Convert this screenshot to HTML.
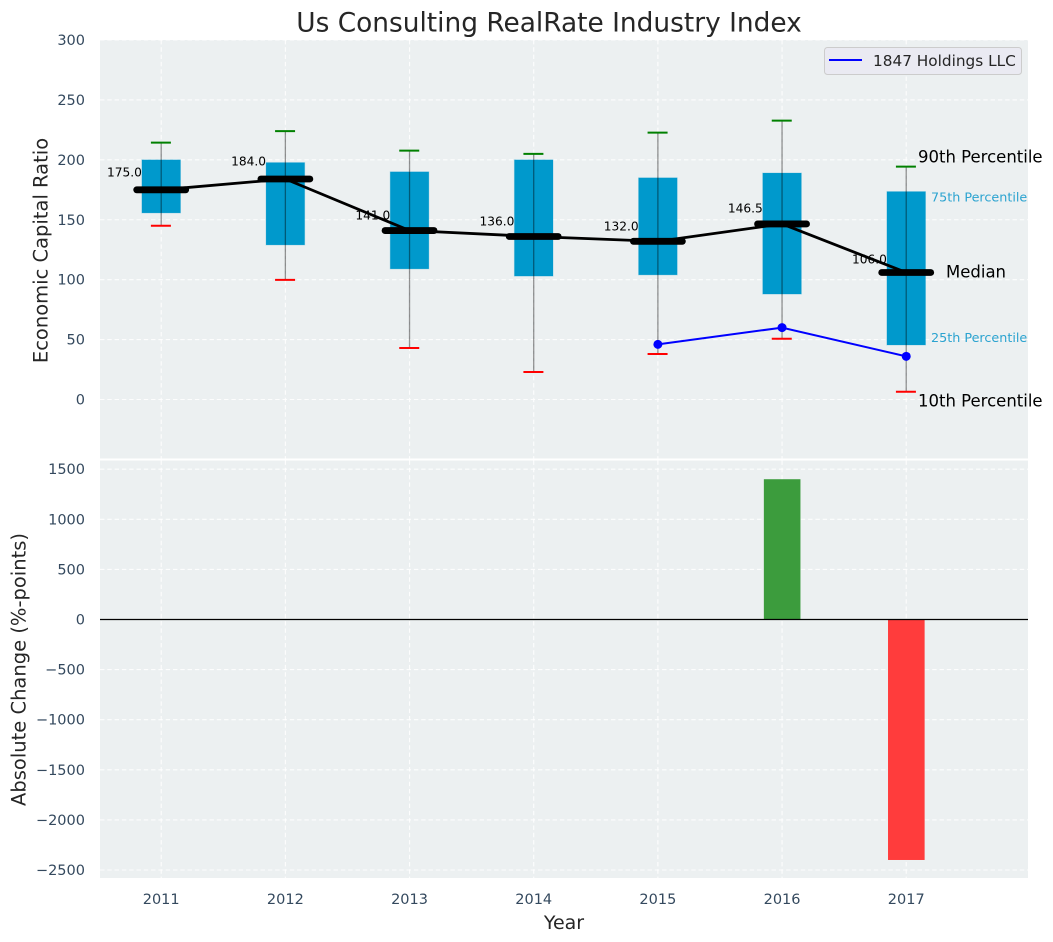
<!DOCTYPE html>
<html lang="en">
<head>
<meta charset="utf-8">
<title>Us Consulting RealRate Industry Index</title>
<style>
  html, body { margin: 0; padding: 0; background: #ffffff; }
  svg { display: block; font-family: "DejaVu Sans", "Liberation Sans", sans-serif; }
</style>
</head>
<body>
<svg id="chart" xmlns="http://www.w3.org/2000/svg" width="1053" height="942" viewBox="0 0 1053 942">
  <text x="549" y="31.5" font-size="26.4" fill="#262626" text-anchor="middle">Us Consulting RealRate Industry Index</text>
  <rect x="100" y="40" width="928" height="418.5" fill="#ecf0f1"/>
  <rect x="100" y="460.5" width="928" height="417.5" fill="#ecf0f1"/>
  <g id="grid"></g>
  <g id="boxes"></g>
  <g id="labels"></g>
  <g id="bars"></g>
  <g id="lines"></g>
  <g id="ticks"></g>
  <g id="notes"></g>
  <text transform="translate(47.5,250.5) rotate(-90)" font-size="19.5" fill="#262626" text-anchor="middle">Economic Capital Ratio</text>
  <text transform="translate(25.5,669.5) rotate(-90)" font-size="19.5" fill="#262626" text-anchor="middle">Absolute Change (%-points)</text>
  <text x="564" y="929" font-size="19" fill="#262626" text-anchor="middle">Year</text>
  <g>
    <rect x="824.5" y="47.5" width="197" height="27" rx="3" fill="#eaeaf2" stroke="#cccccc" stroke-width="1"/>
    <line x1="829" y1="60" x2="862" y2="60" stroke="#0000ff" stroke-width="2"/>
    <text x="873" y="66" font-size="15.3" fill="#262626">1847 Holdings LLC</text>
  </g>
</svg>
<script>
const years = [2011, 2012, 2013, 2014, 2015, 2016, 2017];
const p10 = [145, 99.8, 43, 23, 38, 50.7, 6.5];
const p25 = [155.7, 129, 109, 103, 104, 88, 45.5];
const medians = [175, 184, 141, 136, 132, 146.5, 106];
const medianLabels = ['175.0', '184.0', '141.0', '136.0', '132.0', '146.5', '106.0'];
const p75 = [200, 197.7, 190, 200, 185, 189, 173.5];
const p90 = [214.4, 224, 207.7, 205, 222.7, 232.7, 194.3];
const companyYears = [2015, 2016, 2017];
const companyValues = [46, 60, 36];
const changeYears = [2016, 2017];
const changeValues = [1400, -2400];
const topTicks = [0, 50, 100, 150, 200, 250, 300];
const bottomTicks = [-2500, -2000, -1500, -1000, -500, 0, 500, 1000, 1500];

const NS = 'http://www.w3.org/2000/svg';
const xScale = v => 161.2 + (v - 2011) * 124.17;
const yTop = v => 399.5 - v * 1.1983;
const yBottom = v => 619.5 - v * 0.1002;
const boxHalf = 19.3;
const capHalf = 10;

function make(parent, tag, attrs, content) {
  const el = document.createElementNS(NS, tag);
  Object.keys(attrs).forEach(k => el.setAttribute(k, attrs[k]));
  if (content !== undefined) el.textContent = content;
  parent.appendChild(el);
  return el;
}
const g = id => document.getElementById(id);
const fmtTick = v => (v < 0 ? '\u2212' + Math.abs(v) : String(v));
const gridStyle = { stroke: '#ffffff', 'stroke-width': 1.1, 'stroke-dasharray': '4.4,2.9', opacity: 0.9 };

topTicks.forEach(v => {
  const y = yTop(v);
  const line = make(g('grid'), 'line', Object.assign({ x1: 100, x2: 1028, y1: y, y2: y }, gridStyle));
  
  
  const label = make(g('ticks'), 'text', { x: 85, y: y + 5, 'font-size': 14.5, fill: '#34495e', 'text-anchor': 'end' }, fmtTick(v));
  
  
});

bottomTicks.forEach(v => {
  const y = yBottom(v);
  const line = make(g('grid'), 'line', Object.assign({ x1: 100, x2: 1028, y1: y, y2: y }, gridStyle));
  
  
  const label = make(g('ticks'), 'text', { x: 85, y: y + 5, 'font-size': 14.5, fill: '#34495e', 'text-anchor': 'end' }, fmtTick(v));
  
  
});

years.forEach(yr => {
  const x = xScale(yr);
  const topGrid = make(g('grid'), 'line', Object.assign({ x1: x, x2: x, y1: 40, y2: 458.5 }, gridStyle));
  
  
  const bottomGrid = make(g('grid'), 'line', Object.assign({ x1: x, x2: x, y1: 460.5, y2: 878 }, gridStyle));
  
  
  const label = make(g('ticks'), 'text', { x: x, y: 904, 'font-size': 14.5, fill: '#34495e', 'text-anchor': 'middle' }, String(yr));
  
  
});

years.forEach((yr, i) => {
  const x = xScale(yr);
  const box = make(g('boxes'), 'rect', {
    x: x - boxHalf, y: yTop(p75[i]), width: boxHalf * 2, height: yTop(p25[i]) - yTop(p75[i]),
    fill: '#0099cc', stroke: '#0099cc', 'stroke-opacity': 0.25, 'stroke-width': 1
  });
  
  
  const whisker = make(g('boxes'), 'line', {
    x1: x, x2: x, y1: yTop(p90[i]), y2: yTop(p10[i]), stroke: '#000000', 'stroke-opacity': 0.42, 'stroke-width': 1.3
  });
  
  
  const upper = make(g('boxes'), 'line', {
    x1: x - capHalf - 0.3, x2: x + capHalf - 0.3, y1: yTop(p90[i]), y2: yTop(p90[i]), stroke: '#008000', 'stroke-width': 2
  });
  
  
  const lower = make(g('boxes'), 'line', {
    x1: x - capHalf - 0.3, x2: x + capHalf - 0.3, y1: yTop(p10[i]), y2: yTop(p10[i]), stroke: '#ff0000', 'stroke-width': 2
  });
  
  
  const text = make(g('labels'), 'text', {
    x: x - boxHalf, y: yTop(medians[i] * 1.05 + 6) + 4.5, 'font-size': 12.2, fill: '#000000', 'text-anchor': 'end'
  }, medianLabels[i]);
  
  
});

changeYears.forEach((yr, i) => {
  const x = xScale(yr);
  const v = changeValues[i];
  const bar = make(g('bars'), 'rect', {
    x: x - 18.2, y: Math.min(yBottom(v), yBottom(0)), width: 36.6, height: Math.abs(yBottom(v) - yBottom(0)),
    fill: v >= 0 ? '#3c9c3d' : '#ff3c3c'
  });
  
  
});

const zeroLine = make(g('bars'), 'line', { x1: 100, x2: 1028, y1: yBottom(0), y2: yBottom(0), stroke: '#000000', 'stroke-width': 1.2 });



const medianPath = make(g('lines'), 'polyline', {
  points: years.map((yr, i) => xScale(yr) + ',' + yTop(medians[i])).join(' '),
  fill: 'none', stroke: '#000000', 'stroke-width': 2.8
});



years.forEach((yr, i) => {
  const x = xScale(yr);
  const y = yTop(medians[i]);
  const tick = make(g('lines'), 'line', {
    x1: x - 24.5, x2: x + 24.5, y1: y, y2: y, stroke: '#000000', 'stroke-width': 6.8, 'stroke-linecap': 'round'
  });
  
  
});

const companyPath = make(g('lines'), 'polyline', {
  points: companyYears.map((yr, i) => xScale(yr) + ',' + yTop(companyValues[i])).join(' '),
  fill: 'none', stroke: '#0000ff', 'stroke-width': 2
});



companyYears.forEach((yr, i) => {
  const dot = make(g('lines'), 'circle', { cx: xScale(yr), cy: yTop(companyValues[i]), r: 4.5, fill: '#0000ff' });
  
  
});

const last = years.length - 1;
const note90 = make(g('notes'), 'text', { x: 918, y: yTop(p90[last]) - 4, 'font-size': 16.5, fill: '#000000' }, '90th Percentile');


const note75 = make(g('notes'), 'text', { x: 931, y: yTop(p75[last]) + 10, 'font-size': 12.75, fill: '#2ba3d0' }, '75th Percentile');


const noteMedian = make(g('notes'), 'text', { x: 946, y: yTop(medians[last]) + 5, 'font-size': 16.5, fill: '#000000' }, 'Median');


const note25 = make(g('notes'), 'text', { x: 931, y: yTop(p25[last]) - 3, 'font-size': 12.75, fill: '#2ba3d0' }, '25th Percentile');


const note10 = make(g('notes'), 'text', { x: 918, y: yTop(p10[last]) + 15, 'font-size': 16.5, fill: '#000000' }, '10th Percentile');


</script>
</body>
</html>
